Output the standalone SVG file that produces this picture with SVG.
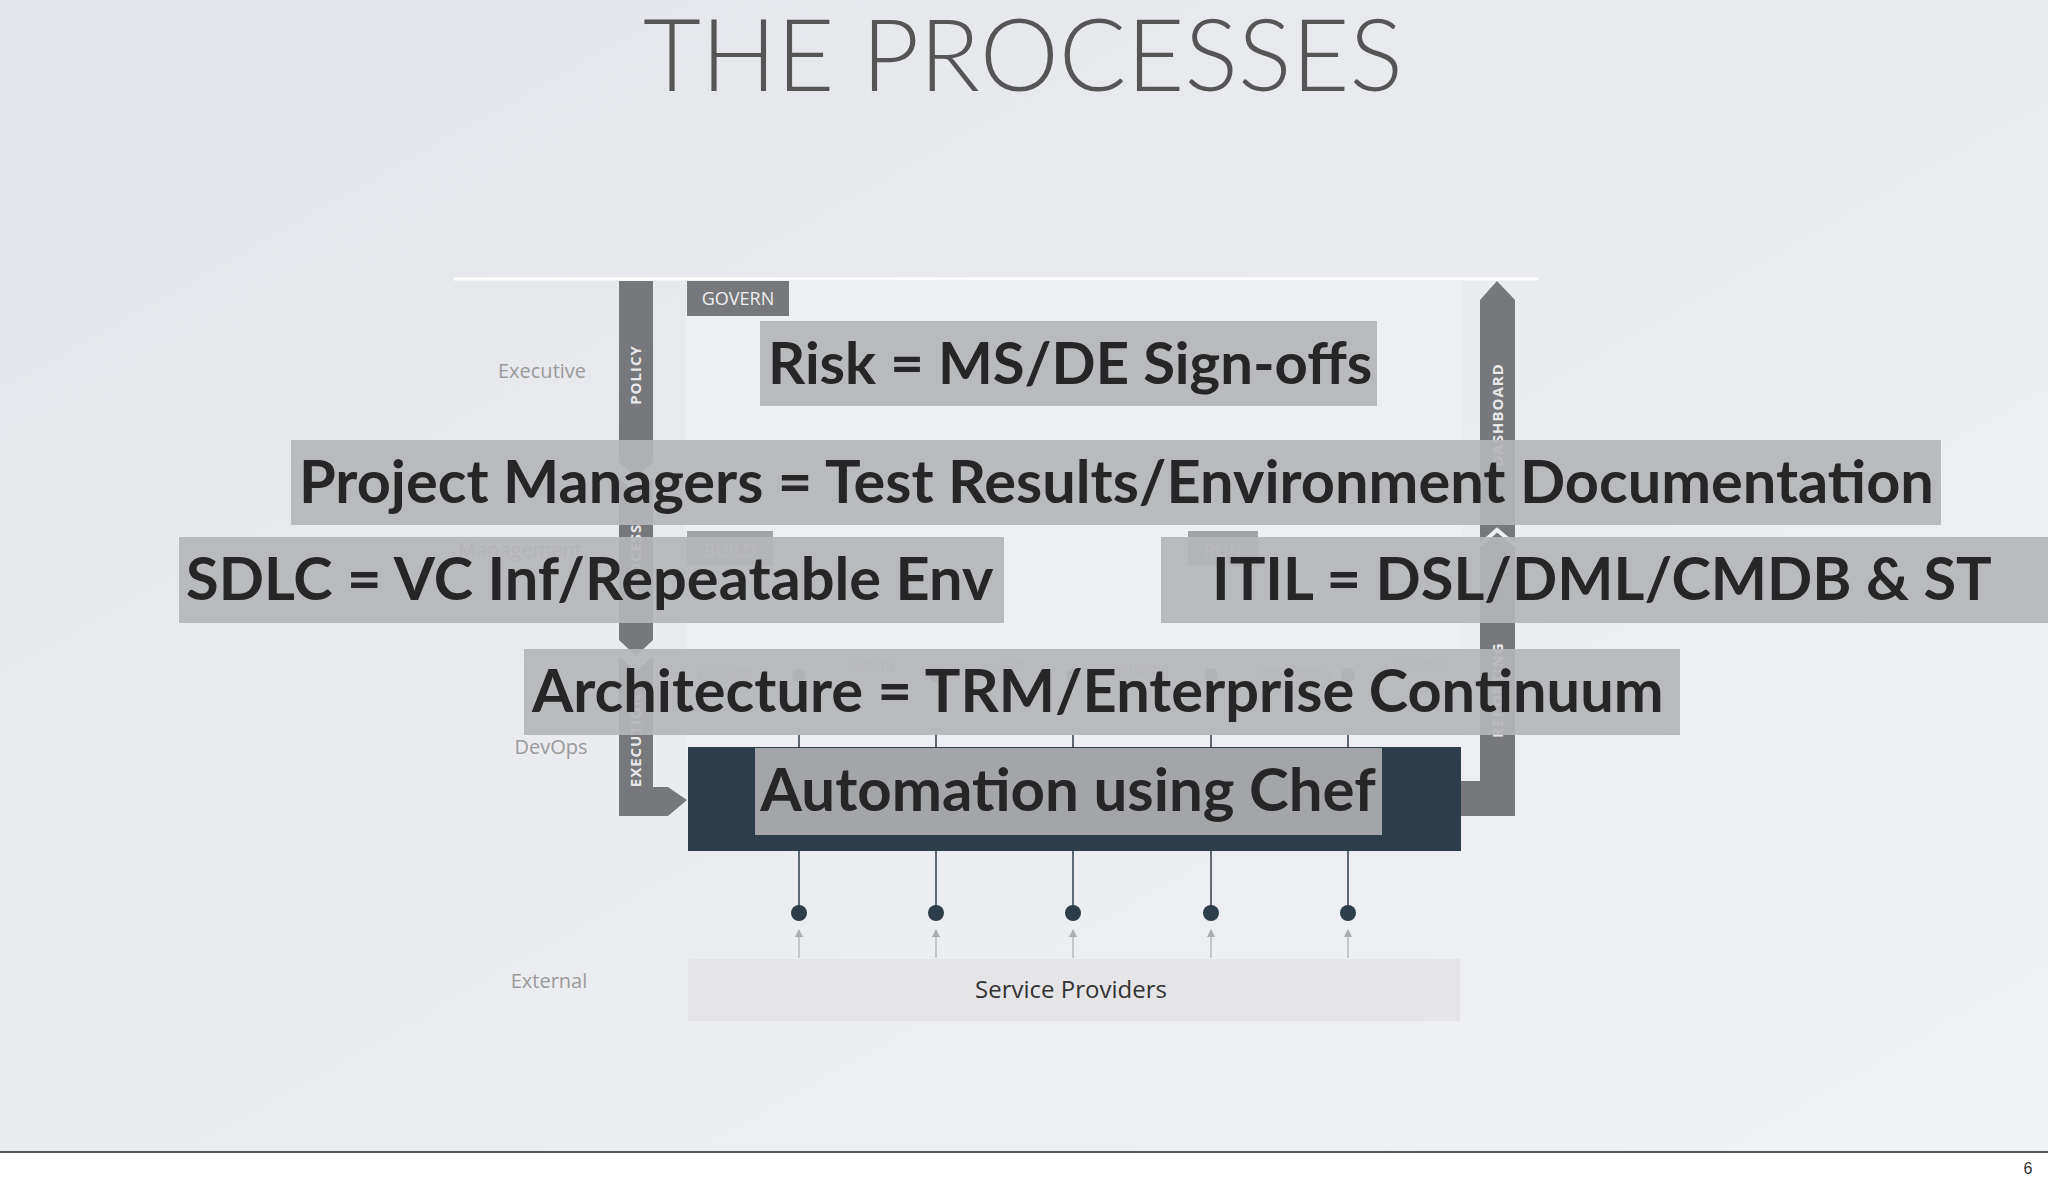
<svg xmlns="http://www.w3.org/2000/svg" width="2048" height="1184" viewBox="0 0 2048 1184">
<defs>
<linearGradient id="bg" x1="0" y1="0" x2="1" y2="1"><stop offset="0" stop-color="#e4e5ea"/><stop offset="1" stop-color="#f1f2f5"/></linearGradient>
<style>
.lbl{font-family:"Open Sans",sans-serif;font-size:20px;fill:#9a9a9a}
.bar{fill:#77787b}
.vt{font-family:"Open Sans",sans-serif;font-weight:bold;font-size:15px;fill:#e8e8ea;letter-spacing:1px}
.ov{fill:#b4b5b8;fill-opacity:0.92}
.big{font-family:"Lato","Liberation Sans",sans-serif;font-weight:bold;font-size:59.5px;fill:#262626}
.ghost{font-family:"Open Sans",sans-serif;font-size:14px;fill:#b8b8bc}
.ln{stroke:#2e3d4a;stroke-width:1.5}
.ar{stroke:#a9acb0;stroke-width:1.2}
</style>
</defs>
<rect width="2048" height="1152" fill="url(#bg)"/>
<rect y="1152" width="2048" height="32" fill="#ffffff"/>
<line x1="0" y1="1152" x2="2048" y2="1152" stroke="#555" stroke-width="2"/>
<text x="2028" y="1174" font-family="Liberation Sans,sans-serif" font-size="16" fill="#333" text-anchor="middle">6</text>
<text x="1023" y="91" font-family="Lato,sans-serif" font-weight="300" font-size="100" fill="#555" text-anchor="middle">THE PROCESSES</text>

<line x1="454" y1="279" x2="1538" y2="279" stroke="#fff" stroke-width="3"/>
<rect x="686" y="280" width="776" height="480" fill="#eeeff3"/>

<g id="labels">
<text class="lbl" x="542" y="378" text-anchor="middle">Executive</text>
<text class="lbl" x="520" y="557" text-anchor="middle" fill="#c4c4c6">Management</text>
<text class="lbl" x="551" y="754" text-anchor="middle">DevOps</text>
<text class="lbl" x="549" y="988" text-anchor="middle">External</text>
</g>

<g id="left-bar">
<polygon class="bar" points="619,281 653,281 653,462 636,478 619,462"/>
<polygon class="bar" points="619,478 636,494 653,478 653,640 636,656 619,640"/>
<polygon class="bar" points="619,656 636,672 653,656 653,787 668,787 687,800 668,816 619,816"/>
<text class="vt" transform="translate(641,375) rotate(-90)" text-anchor="middle">POLICY</text>
<text class="vt" transform="translate(641,560) rotate(-90)" text-anchor="middle">PROCESS</text>
<text class="vt" transform="translate(641,740) rotate(-90)" text-anchor="middle">EXECUTION</text>
</g>

<g id="right-bar">
<polygon class="bar" points="1480,816 1515,816 1515,300 1497,281 1480,300 1480,781 1461,781 1461,816"/>
<polyline points="1480,545 1497,530 1515,545" fill="none" stroke="#eeeff3" stroke-width="4"/>
<text class="vt" transform="translate(1503,415) rotate(-90)" text-anchor="middle">DASHBOARD</text>
<text class="vt" transform="translate(1503,690) rotate(-90)" text-anchor="middle">REPORTING</text>
</g>

<g id="govern"><rect x="687" y="281" width="102" height="35" fill="#77787b"/><text x="738" y="305" font-family="Open Sans,sans-serif" font-size="18" fill="#eee" text-anchor="middle">GOVERN</text></g>
<g id="build"><rect x="687" y="531" width="86" height="35" fill="#a3a4a7"/><text x="730" y="557" font-family="Open Sans,sans-serif" font-size="18" fill="#ddd" text-anchor="middle">BUILD</text></g>
<g id="run"><rect x="1188" y="531" width="70" height="35" fill="#a3a4a7"/><text x="1223" y="557" font-family="Open Sans,sans-serif" font-size="18" fill="#ddd" text-anchor="middle">RUN</text></g>

<g id="stages">
<text class="ghost" x="725" y="678" text-anchor="middle">Develop</text>
<text class="ghost" x="870" y="670" text-anchor="middle">System</text>
<text class="ghost" x="1010" y="670" text-anchor="middle">User</text>
<text class="ghost" x="1145" y="674" text-anchor="middle">Staging</text>
<text class="ghost" x="1295" y="678" text-anchor="middle">Production</text>
<text class="ghost" x="1420" y="670" text-anchor="middle">Disaster</text>
<circle cx="799" cy="675" r="7" fill="#8a9199"/><circle cx="936" cy="675" r="7" fill="#8a9199"/><circle cx="1073" cy="675" r="7" fill="#8a9199"/><circle cx="1211" cy="675" r="7" fill="#8a9199"/><circle cx="1348" cy="675" r="7" fill="#8a9199"/>
</g>

<g id="connectors">
<line class="ln" x1="799" y1="735" x2="799" y2="913"/>
<line class="ln" x1="936" y1="735" x2="936" y2="913"/>
<line class="ln" x1="1073" y1="735" x2="1073" y2="913"/>
<line class="ln" x1="1211" y1="735" x2="1211" y2="913"/>
<line class="ln" x1="1348" y1="735" x2="1348" y2="913"/>
<g fill="#2e3d4a"><circle cx="799" cy="913" r="8"/><circle cx="936" cy="913" r="8"/><circle cx="1073" cy="913" r="8"/><circle cx="1211" cy="913" r="8"/><circle cx="1348" cy="913" r="8"/></g>
<g><line class="ar" x1="799" y1="958" x2="799" y2="932"/><line class="ar" x1="936" y1="958" x2="936" y2="932"/><line class="ar" x1="1073" y1="958" x2="1073" y2="932"/><line class="ar" x1="1211" y1="958" x2="1211" y2="932"/><line class="ar" x1="1348" y1="958" x2="1348" y2="932"/></g>
<g fill="#a9acb0"><polygon points="795,937 799,929 803,937"/><polygon points="932,937 936,929 940,937"/><polygon points="1069,937 1073,929 1077,937"/><polygon points="1207,937 1211,929 1215,937"/><polygon points="1344,937 1348,929 1352,937"/></g>
</g>

<g id="orchestration"><rect x="688" y="747" width="773" height="104" fill="#2e3d4a"/></g>
<g id="service-providers"><rect x="688" y="959" width="772" height="62" fill="#e5e5e7"/><text x="1071" y="998" font-family="Open Sans,sans-serif" font-size="24" fill="#333" text-anchor="middle">Service Providers</text></g>

<g id="risk"><rect class="ov" x="760" y="321" width="617" height="85"/><text class="big" x="768" y="384" style="font-size:58px">Risk = MS/DE Sign-offs</text></g>
<g id="pm"><rect class="ov" x="291" y="440" width="1650" height="85"/><text class="big" x="299" y="503">Project Managers = Test Results/Environment Documentation</text></g>
<g id="sdlc"><rect class="ov" x="179" y="537" width="825" height="86"/><text class="big" x="186" y="600">SDLC = VC Inf/Repeatable Env</text></g>
<g id="itil"><rect class="ov" x="1161" y="537" width="887" height="86"/><text class="big" x="1212" y="600">ITIL = DSL/DML/CMDB &amp; ST</text></g>
<g id="arch"><rect class="ov" x="524" y="649" width="1156" height="86"/><text class="big" x="532" y="712">Architecture = TRM/Enterprise Continuum</text></g>
<g id="chef"><rect x="755" y="748" width="627" height="87" fill="#a3a5a9"/><text class="big" x="1068" y="811" text-anchor="middle" fill="#111" style="font-size:60px">Automation using Chef</text></g>
</svg>
